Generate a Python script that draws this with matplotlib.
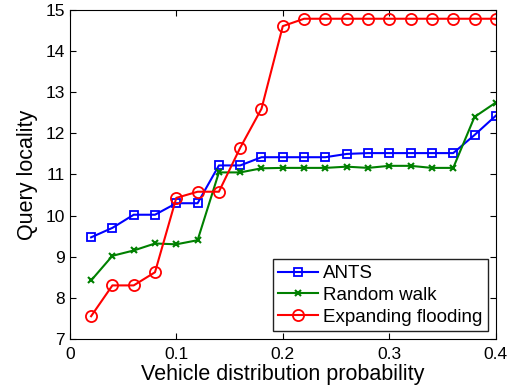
import numpy as np
import matplotlib.pyplot as plt

plt.rcParams['font.family'] = ['Liberation Sans', 'DejaVu Sans']

# Data
prob = [0.02, 0.04, 0.06, 0.08, 0.10, 0.12, 0.14, 0.16, 0.18, 0.20,
        0.22, 0.24, 0.26, 0.28, 0.30, 0.32, 0.34, 0.36, 0.38, 0.40]
ants = [9.47, 9.70, 10.02, 10.02, 10.30, 10.30, 11.22, 11.22, 11.42, 11.42,
        11.42, 11.42, 11.50, 11.52, 11.52, 11.52, 11.52, 11.52, 11.96, 12.43]
random_walk = [8.42, 9.02, 9.15, 9.32, 9.30, 9.40, 11.05, 11.05, 11.15, 11.16,
               11.16, 11.16, 11.19, 11.16, 11.21, 11.21, 11.16, 11.16, 12.40, 12.75]
flooding = [7.55, 8.30, 8.30, 8.62, 10.43, 10.58, 10.58, 11.65, 12.60, 14.61,
            14.79, 14.79, 14.79, 14.79, 14.79, 14.79, 14.79, 14.79, 14.79, 14.79]

fig = plt.figure(figsize=(5.17, 3.89), dpi=100)
ax = fig.add_axes([0.135, 0.129, 0.824, 0.845])

ax.plot(prob, ants, color='#0000ff', marker='s', markersize=6,
        markerfacecolor='none', markeredgewidth=1.3, linewidth=1.5, label='ANTS')
ax.plot(prob, random_walk, color='#008000', marker='x', markersize=4.5,
        markeredgewidth=1.5, linewidth=1.5, label='Random walk')
ax.plot(prob, flooding, color='#ff0000', marker='o', markersize=8,
        markerfacecolor='none', markeredgewidth=1.3, linewidth=1.5,
        label='Expanding flooding')

ax.set_xlim(0, 0.4)
ax.set_ylim(7, 15)
ax.set_xticks([0, 0.1, 0.2, 0.3, 0.4])
ax.set_xticklabels(['0', '0.1', '0.2', '0.3', '0.4'])
ax.set_yticks(range(7, 16))
ax.tick_params(direction='in', top=True, right=True, labelsize=12.5, length=4)
ax.tick_params(axis='x', pad=6)
ax.set_xlabel('Vehicle distribution probability', fontsize=15.5, labelpad=1)
ax.set_ylabel('Query locality', fontsize=15.5, labelpad=5)

leg = ax.legend(loc='lower right', fontsize=13.5, fancybox=False, framealpha=1,
                edgecolor='#222222', borderpad=0.3, labelspacing=0.25,
                handlelength=2.1, handletextpad=0.3, borderaxespad=0.4)
leg.get_frame().set_linewidth(1.0)

fig.savefig('out.png', dpi=100)
